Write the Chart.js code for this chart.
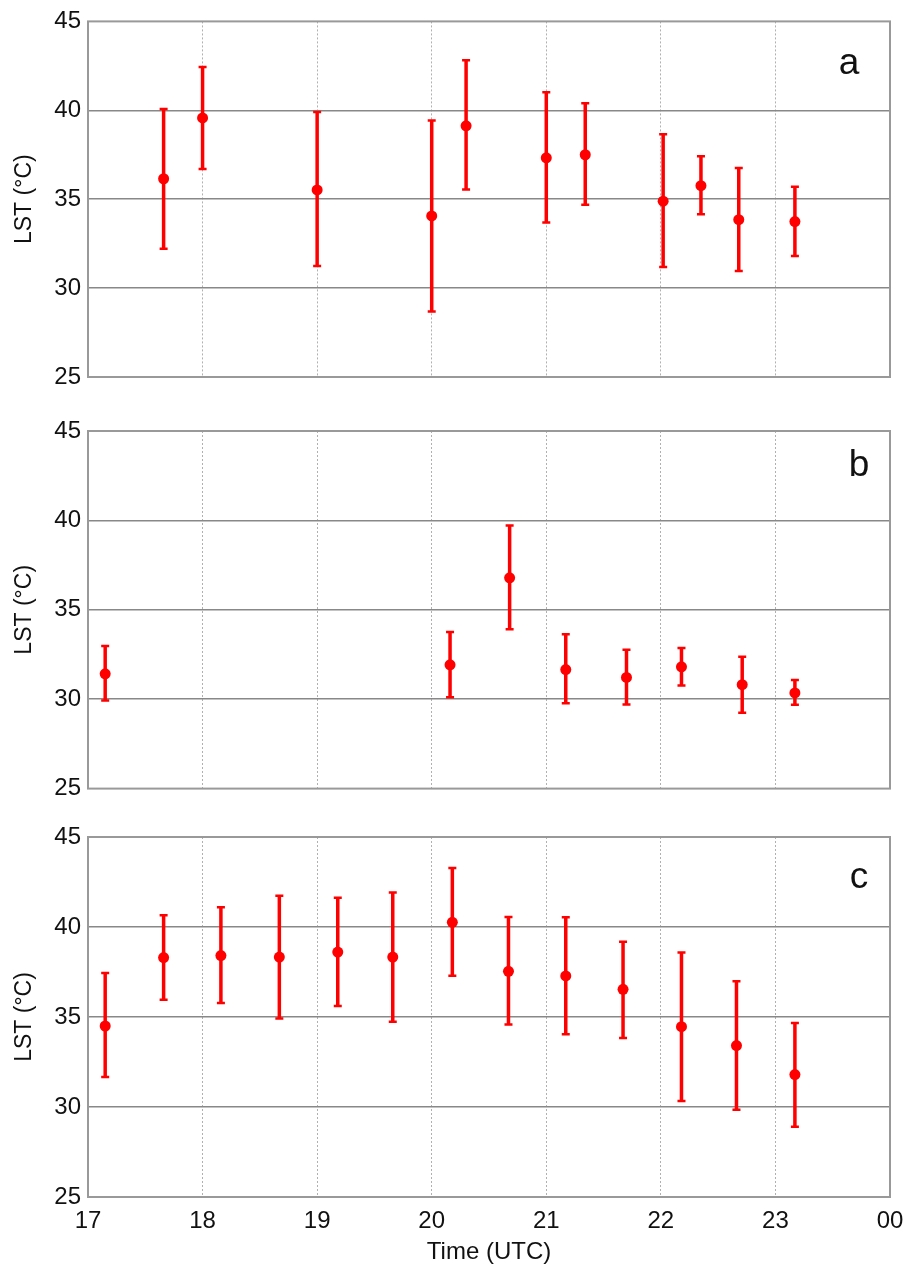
<!DOCTYPE html>
<html>
<head>
<meta charset="utf-8">
<script src="https://cdn.jsdelivr.net/npm/chart.js@4.4.1/dist/chart.umd.min.js"></script>
<style>
  html, body { margin: 0; padding: 0; background: #ffffff; }
  #wrap { position: relative; width: 906px; height: 1266px; }
  canvas { position: absolute; left: 0; }
</style>
</head>
<body>
<div id="wrap">
  <canvas id="panel-a" width="906" height="400" style="top:0px"></canvas>
  <canvas id="panel-b" width="906" height="410" style="top:400px"></canvas>
  <canvas id="panel-c" width="906" height="456" style="top:810px"></canvas>
</div>
<script>
// Axis ticks
const yTicks = [25, 30, 35, 40, 45];
const xTicks = [17, 18, 19, 20, 21, 22, 23, 24];
const xTickLabels = ['17', '18', '19', '20', '21', '22', '23', '00'];

// Panel a
const aTime = [17.66, 18.0, 19.0, 20.0, 20.3, 21.0, 21.34, 22.02, 22.35, 22.68, 23.17];
const aMean = [36.15, 39.57, 35.52, 34.06, 39.13, 37.33, 37.5, 34.89, 35.76, 33.85, 33.74];
const aHigh = [40.07, 42.44, 39.9, 39.43, 42.81, 41.02, 40.39, 38.65, 37.41, 36.76, 35.7];
const aLow  = [32.22, 36.7, 31.24, 28.69, 35.54, 33.69, 34.69, 31.19, 34.15, 30.96, 31.81];

// Panel b
const bTime = [17.15, 20.16, 20.68, 21.17, 21.7, 22.18, 22.71, 23.17];
const bMean = [31.42, 31.92, 36.79, 31.66, 31.22, 31.81, 30.81, 30.35];
const bHigh = [32.97, 33.76, 39.72, 33.63, 32.77, 32.86, 32.38, 31.07];
const bLow  = [29.93, 30.11, 33.91, 29.78, 29.7, 30.77, 29.24, 29.69];

// Panel c
const cTime = [17.15, 17.66, 18.16, 18.67, 19.18, 19.66, 20.18, 20.67, 21.17, 21.67, 22.18, 22.66, 23.17];
const cMean = [34.5, 38.3, 38.41, 38.33, 38.61, 38.33, 40.26, 37.54, 37.28, 36.54, 34.46, 33.41, 31.8];
const cHigh = [37.45, 40.65, 41.1, 41.73, 41.63, 41.91, 43.28, 40.56, 40.54, 39.18, 38.58, 36.98, 34.67];
const cLow  = [31.67, 35.96, 35.78, 34.91, 35.61, 34.74, 37.29, 34.58, 34.04, 33.84, 30.34, 29.85, 28.9];

const RED = '#ff0000';
const FONT = '"Liberation Sans", Arial, Helvetica, sans-serif';

// Error bars, box frame and panel letter
const panelPlugin = {
  id: 'panelDecor',
  beforeDatasetsDraw(chart) {
    const { ctx, chartArea: ca, scales: { x, y } } = chart;
    const cfg = chart.options.plugins.panelDecor;
    ctx.save();
    // frame
    ctx.strokeStyle = '#999999';
    ctx.lineWidth = 2;
    ctx.strokeRect(ca.left, ca.top, ca.right - ca.left, ca.bottom - ca.top);
    // error bars
    ctx.strokeStyle = RED;
    ctx.lineCap = 'butt';
    cfg.time.forEach((t, i) => {
      const px = x.getPixelForValue(t);
      const hi = y.getPixelForValue(cfg.high[i]);
      const lo = y.getPixelForValue(cfg.low[i]);
      ctx.lineWidth = 3.5;
      ctx.beginPath();
      ctx.moveTo(px, hi);
      ctx.lineTo(px, lo);
      ctx.stroke();
      ctx.lineWidth = 2.5;
      ctx.beginPath();
      ctx.moveTo(px - 4, hi);
      ctx.lineTo(px + 4, hi);
      ctx.moveTo(px - 4, lo);
      ctx.lineTo(px + 4, lo);
      ctx.stroke();
    });
    ctx.restore();
  },
  afterDraw(chart) {
    const { ctx, chartArea: ca } = chart;
    const cfg = chart.options.plugins.panelDecor;
    ctx.save();
    ctx.fillStyle = '#111111';
    ctx.font = '37px ' + FONT;
    ctx.textAlign = 'center';
    ctx.textBaseline = 'alphabetic';
    ctx.fillText(cfg.letter, ca.right - cfg.letterDx, ca.top + cfg.letterDy);
    ctx.restore();
  }
};

function makePanel(id, letter, time, mean, high, low, opts) {
  const points = time.map((t, i) => ({ x: t, y: mean[i] }));
  return new Chart(document.getElementById(id), {
    type: 'scatter',
    data: {
      datasets: [{
        data: points,
        pointRadius: 5.5,
        pointHoverRadius: 5.5,
        pointBackgroundColor: RED,
        pointBorderWidth: 0
      }]
    },
    options: {
      responsive: false,
      animation: false,
      devicePixelRatio: 1,
      layout: { padding: { top: opts.padTop, right: 16, left: 0, bottom: 0 } },
      plugins: {
        legend: { display: false },
        tooltip: { enabled: false },
        panelDecor: { letter, time, high, low, letterDx: opts.letterDx, letterDy: opts.letterDy }
      },
      scales: {
        x: {
          type: 'linear',
          min: 17,
          max: 24,
          afterBuildTicks: (scale) => { scale.ticks = xTicks.map(v => ({ value: v })); },
          afterFit: (scale) => {
            scale.height = opts.xHeight;
            scale.paddingLeft = 0;
            scale.paddingRight = 0;
          },
          ticks: {
            display: opts.showX,
            padding: 10,
            color: '#111111',
            font: { family: FONT, size: 24 },
            callback: (v) => xTickLabels[xTicks.indexOf(v)]
          },
          grid: {
            drawTicks: false,
            lineWidth: 1,
            color: (c) => (c.tick.value === 17 || c.tick.value === 24) ? 'rgba(0,0,0,0)' : '#b0b0b0'
          },
          border: { display: false, dash: [2, 2] },
          title: {
            display: opts.showX,
            text: 'Time (UTC)',
            color: '#111111',
            font: { family: FONT, size: 24, lineHeight: 1.1 },
            padding: { top: 0, bottom: 0 }
          }
        },
        y: {
          min: 25,
          max: 45,
          afterBuildTicks: (scale) => { scale.ticks = yTicks.map(v => ({ value: v })); },
          afterFit: (scale) => { scale.width = 88; },
          ticks: {
            padding: 7,
            color: '#111111',
            font: { family: FONT, size: 24 }
          },
          grid: {
            drawTicks: false,
            lineWidth: 1.6,
            color: (c) => (c.tick.value === 25 || c.tick.value === 45) ? 'rgba(0,0,0,0)' : '#888888'
          },
          border: { display: false },
          title: {
            display: true,
            text: 'LST (°C)',
            color: '#111111',
            font: { family: FONT, size: 23 },
            padding: { top: 11, bottom: 0 }
          }
        }
      }
    },
    plugins: [panelPlugin]
  });
}

makePanel('panel-a', 'a', aTime, aMean, aHigh, aLow,
  { padTop: 17, xHeight: 23, showX: false, letterDx: 41, letterDy: 53 });
makePanel('panel-b', 'b', bTime, bMean, bHigh, bLow,
  { padTop: 31, xHeight: 19, showX: false, letterDx: 31, letterDy: 45 });
makePanel('panel-c', 'c', cTime, cMean, cHigh, cLow,
  { padTop: 27, xHeight: 69, showX: true, letterDx: 31, letterDy: 51 });
</script>
</body>
</html>
